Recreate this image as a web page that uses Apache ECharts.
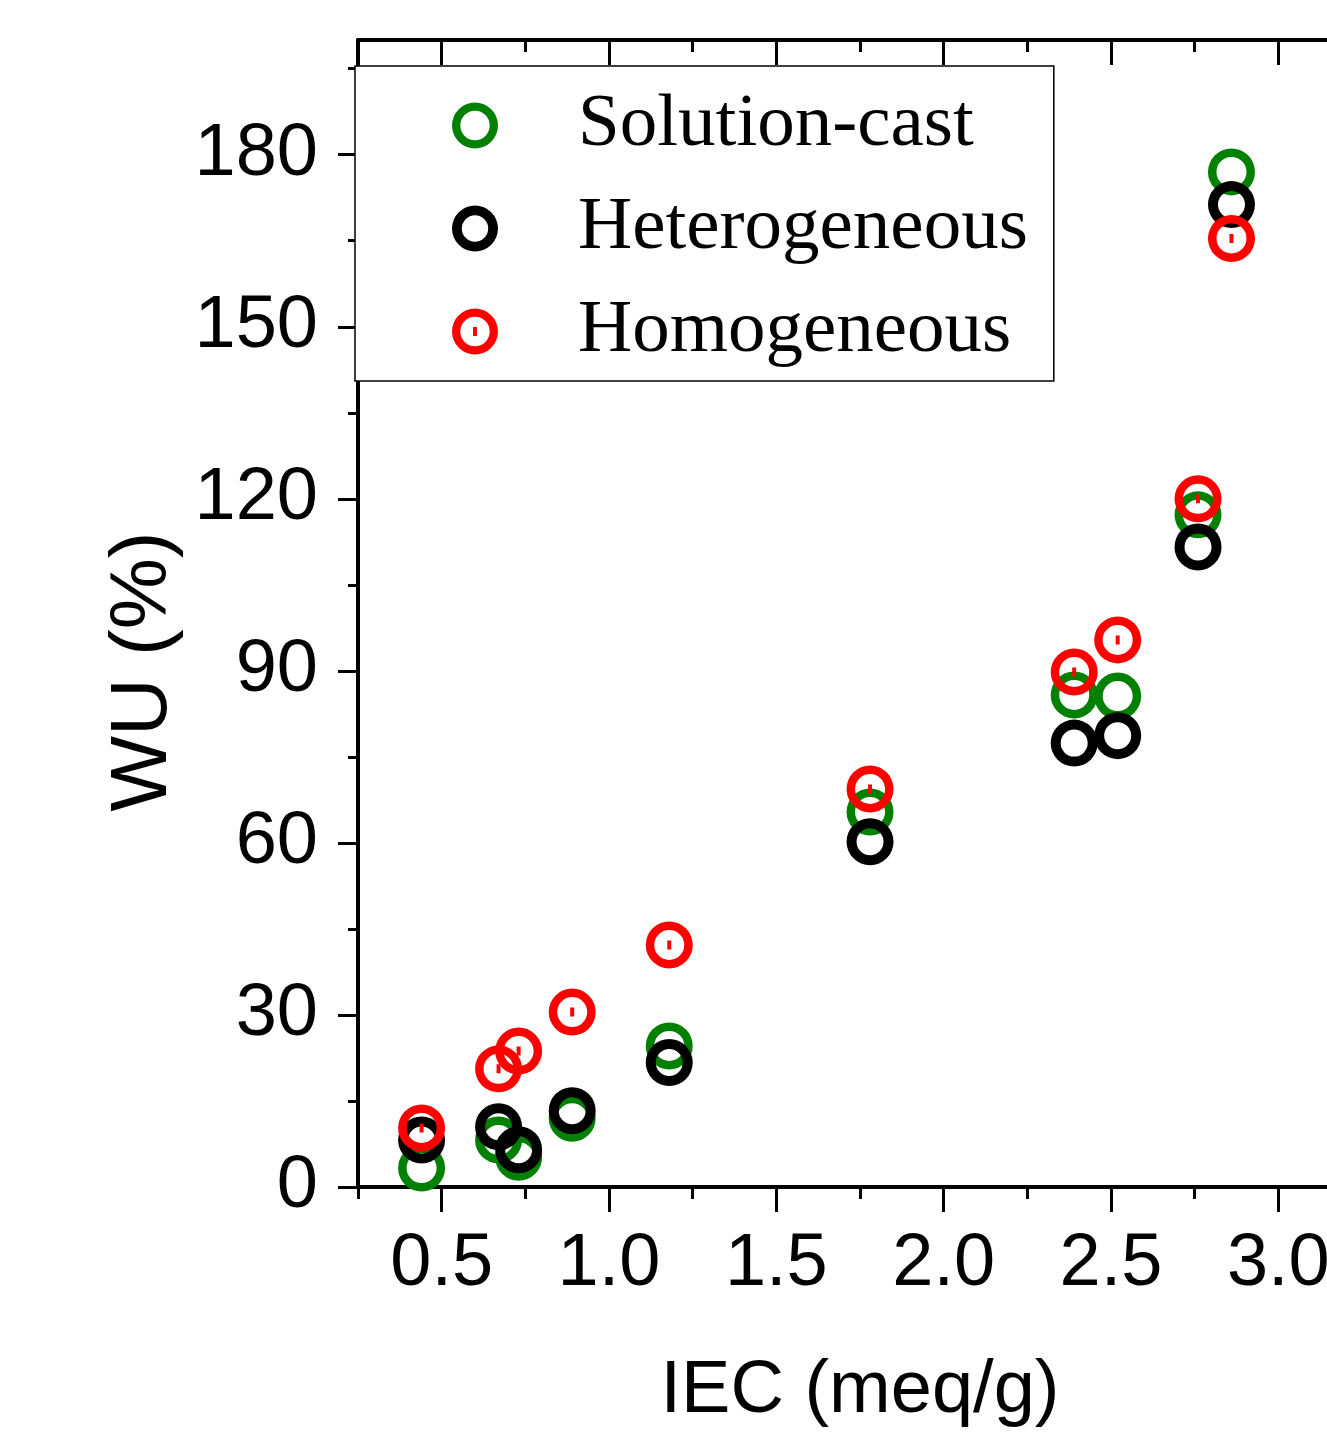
<!DOCTYPE html>
<html>
<head>
<meta charset="utf-8">
<script src="https://cdn.jsdelivr.net/npm/echarts@6/dist/echarts.min.js"></script>
<style>
  html, body { margin: 0; padding: 0; background: #fff; }
  #chart { width: 1327px; height: 1437px; }
</style>
</head>
<body>
<div id="chart"></div>
<script>
// IEC (meq/g) of each membrane
const iec = [0.44, 0.67, 0.73, 0.89, 1.18, 1.78, 2.39, 2.52, 2.76, 2.86]
// water uptake (%)
const wuSolutionCast = [3.3, 8.2, 5.2, 12.0, 24.6, 65.4, 85.8, 85.6, 117.2, 177.0]
const wuHeterogeneous = [8.2, 10.5, 6.5, 13.3, 21.7, 60.2, 77.4, 78.7, 111.6, 171.3]
const wuHomogeneous = [10.3, 20.6, 23.7, 30.5, 42.2, 69.4, 89.8, 95.4, 120.0, 165.4]

const xMajorTicks = [0.5, 1.0, 1.5, 2.0, 2.5, 3.0]
const xMinorTicks = [0.25, 0.75, 1.25, 1.75, 2.25, 2.75, 3.25]
const yMajorTicks = [0, 30, 60, 90, 120, 150, 180]
const yMinorTicks = [15, 45, 75, 105, 135, 165, 195]

// ring symbols (outer clockwise, inner counter-clockwise -> hole)
const ring = 'path://M0,-23.5A23.5,23.5,0,1,1,0,23.5A23.5,23.5,0,1,1,0,-23.5Z' +
  'M0,-15A15,15,0,1,0,0,15A15,15,0,1,0,0,-15Z'
const ringBold = 'path://M0,-23.5A23.5,23.5,0,1,1,0,23.5A23.5,23.5,0,1,1,0,-23.5Z' +
  'M0,-13.5A13.5,13.5,0,1,0,0,13.5A13.5,13.5,0,1,0,0,-13.5Z'
const ringDot = ring + 'M-2,-4.5L2,-4.5L2,4.5L-2,4.5Z'

const chart = echarts.init(document.getElementById('chart'))

function pairs(ys) {
  return iec.map((x, i) => [x, ys[i]])
}

function xAxisPart(pos, ticks, len, inside, withLine, withLabel) {
  return {
    type: 'value',
    position: pos,
    min: 0.25,
    max: 3.25,
    axisLine: { show: withLine, onZero: false, lineStyle: { color: '#000', width: 4 } },
    axisTick: { show: true, inside: inside, length: len, customValues: ticks, lineStyle: { color: '#000', width: 3 } },
    axisLabel: withLabel ? {
      customValues: xMajorTicks,
      formatter: v => v.toFixed(1),
      fontFamily: 'Liberation Sans',
      fontSize: 74,
      color: '#000',
      margin: 41
    } : { show: false },
    splitLine: { show: false },
    name: withLabel ? 'IEC (meq/g)' : '',
    nameLocation: 'middle',
    nameGap: 168,
    nameTextStyle: { fontFamily: 'Liberation Sans', fontSize: 74, color: '#000' }
  }
}

function yAxisPart(ticks, len, withLine, withLabel) {
  return {
    type: 'value',
    position: 'left',
    min: 0,
    max: 200,
    axisLine: { show: withLine, onZero: false, lineStyle: { color: '#000', width: 4 } },
    axisTick: { show: true, length: len, customValues: ticks, lineStyle: { color: '#000', width: 3 } },
    axisLabel: withLabel ? {
      customValues: yMajorTicks,
      fontFamily: 'Liberation Sans',
      fontSize: 74,
      color: '#000',
      margin: 40
    } : { show: false },
    splitLine: { show: false },
    name: withLabel ? 'WU (%)' : '',
    nameLocation: 'middle',
    nameGap: 164,
    nameTextStyle: { fontFamily: 'Liberation Sans', fontSize: 80, color: '#000', padding: [0, 116, 0, 0] }
  }
}

chart.setOption({
  animation: false,
  backgroundColor: '#fff',
  grid: { left: 358, top: 40, width: 1004, height: 1147, containLabel: false, outerBoundsMode: 'none' },
  xAxis: [
    xAxisPart('bottom', xMajorTicks, 25, false, true, true),
    xAxisPart('bottom', xMinorTicks, 12, false, false, false),
    xAxisPart('top', xMajorTicks, 25, true, true, false),
    xAxisPart('top', xMinorTicks, 12, true, false, false)
  ],
  yAxis: [
    yAxisPart(yMajorTicks, 20, true, true),
    yAxisPart(yMinorTicks, 10, false, false)
  ],
  legend: {
    orient: 'vertical',
    left: 355,
    top: 66,
    itemWidth: 46,
    itemHeight: 46,
    itemGap: 28,
    padding: [22, 26, 12, 97],
    borderColor: '#000',
    borderWidth: 1.5,
    backgroundColor: '#fff',
    textStyle: {
      fontFamily: 'Liberation Serif',
      fontSize: 75,
      color: '#000',
      padding: [0, 0, 0, 75]
    },
    data: ['Solution-cast', 'Heterogeneous', 'Homogeneous']
  },
  series: [
    {
      name: 'Solution-cast',
      type: 'scatter',
      symbol: ring,
      symbolSize: 47,
      itemStyle: { color: '#008000', borderWidth: 0, opacity: 1 },
      data: pairs(wuSolutionCast)
    },
    {
      name: 'Heterogeneous',
      type: 'scatter',
      symbol: ringBold,
      symbolSize: 47,
      itemStyle: { color: '#000', borderWidth: 0, opacity: 1 },
      data: pairs(wuHeterogeneous)
    },
    {
      name: 'Homogeneous',
      type: 'scatter',
      symbol: ringDot,
      symbolSize: 47,
      itemStyle: { color: '#ff0000', borderWidth: 0, opacity: 1 },
      data: pairs(wuHomogeneous)
    }
  ]
})
</script>
</body>
</html>
